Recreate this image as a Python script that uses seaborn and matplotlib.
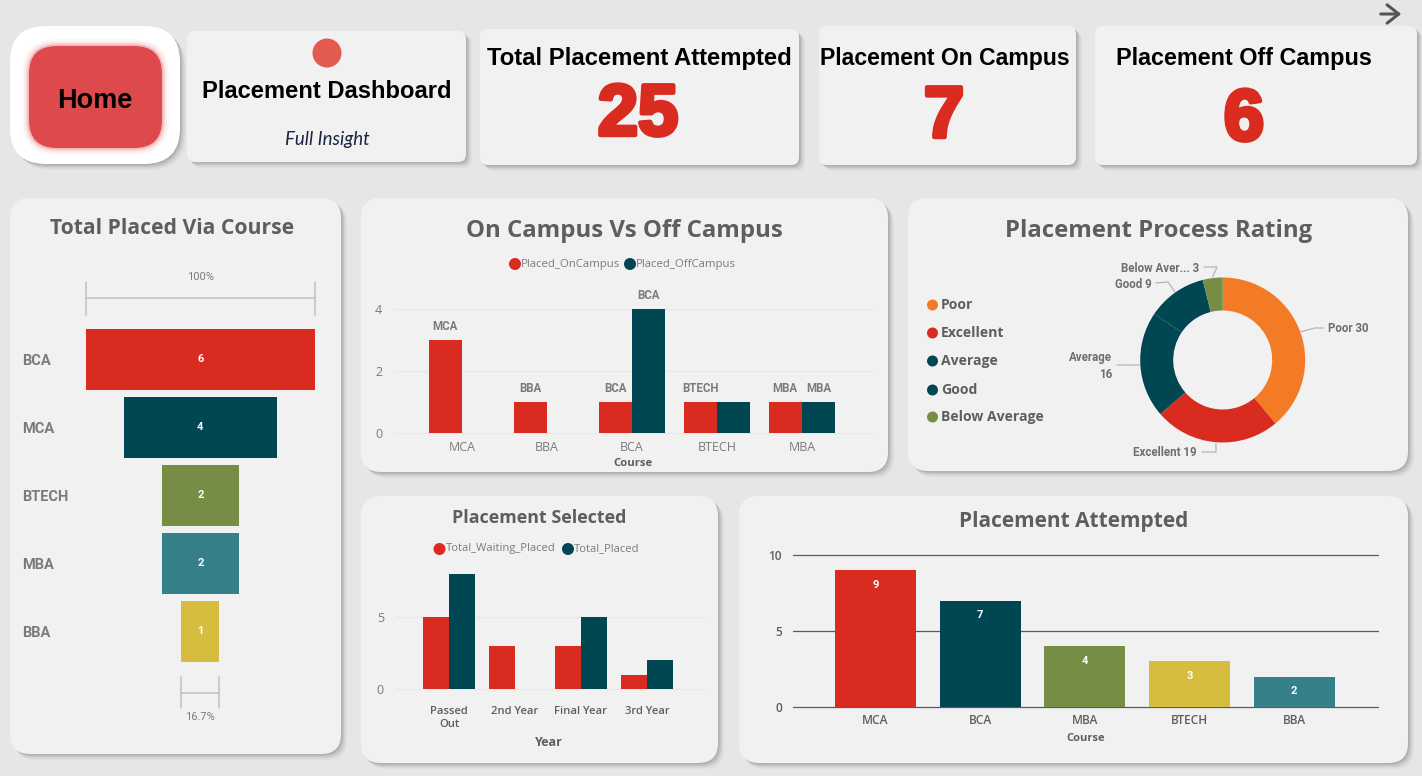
import pandas as pd
import matplotlib
matplotlib.use("Agg")
import matplotlib.pyplot as plt
import matplotlib.patheffects as pe
from matplotlib.patches import FancyBboxPatch, Circle
import numpy as np
import seaborn as sns

# ============================
# data
# ============================
funnel_courses = ["BCA", "MCA", "BTECH", "MBA", "BBA"]
funnel_values = [6, 4, 2, 2, 1]

campus_courses = ["MCA", "BBA", "BCA", "BTECH", "MBA"]
placed_on_campus = [3, 1, 1, 1, 1]
placed_off_campus = [0, 0, 4, 1, 1]
on_campus_names = ["MCA", "BBA", "BCA", "BTECH", "MBA"]
off_campus_names = ["", "", "BCA", "", "MBA"]

rating_labels = ["Poor", "Excellent", "Average", "Good", "Below Average"]
rating_values = [30, 19, 16, 9, 3]

selected_years = ["Passed\nOut", "2nd Year", "Final Year", "3rd Year"]
total_waiting = [5, 3, 3, 1]
total_placed = [8, 0, 5, 2]

attempted_courses = ["MCA", "BCA", "MBA", "BTECH", "BBA"]
attempted_values = [9, 7, 4, 3, 2]

# colours
RED = "#d92b20"
NAVY = "#004753"
OLIVE = "#768d46"
YELLOW = "#d6bc3f"
TEAL = "#36808a"
ORANGE = "#f47b26"
GREY = "#605e5c"
LABEL = "#7b7b7b"
CARD = "#f1f1f1"

W, H = 1422, 776

sns.set_theme(style="white")
plt.rcParams["font.family"] = ["Open Sans", "DejaVu Sans"]
plt.rcParams["axes.unicode_minus"] = False

fig = plt.figure(figsize=(W / 100, H / 100), dpi=100, facecolor="#e6e6e6")

# full size layer in pixel coordinates for the cards and text
bg = fig.add_axes([0, 0, 1, 1], zorder=0)
bg.set_xlim(0, W)
bg.set_ylim(H, 0)
bg.axis("off")


def px_axes(x0, y0, x1, y1):
    ax = fig.add_axes([x0 / W, 1 - y1 / H, (x1 - x0) / W, (y1 - y0) / H], zorder=2)
    ax.patch.set_alpha(0)
    return ax


def round_box(x0, y0, x1, y1, r, color, alpha=1.0, z=1):
    bg.add_patch(FancyBboxPatch(
        (x0 + r, y0 + r), x1 - x0 - 2 * r, y1 - y0 - 2 * r,
        boxstyle=f"round,pad={r},rounding_size={r}",
        fc=color, ec="none", alpha=alpha, zorder=z,
    ))


def card(x0, y0, x1, y1, r, color=CARD):
    # soft shadow to the lower right
    for d, a in [(6, 0.05), (4.5, 0.08), (3, 0.12), (1.5, 0.16)]:
        round_box(x0 + d, y0 + d, x1 + d, y1 + d, r, "#555555", a, 1)
    round_box(x0, y0, x1, y1, r, color, 1, 2)


def label(x, y, s, size, color=GREY, family="Open Sans", weight="bold", ha="center", **kw):
    return bg.text(x, y, s, fontsize=size, color=color, family=family, weight=weight,
                   ha=ha, va="center", zorder=5, **kw)


def legend_item(x, y, color, s, size=8.2, r=6, gap=4, tcolor=LABEL, weight="normal"):
    bg.add_patch(Circle((x, y), r, fc=color, ec="none", zorder=5))
    label(x + r + gap - 4, y, s, size, color=tcolor, weight=weight, ha="left")


def clean(ax, tick_color=LABEL, size=9):
    sns.despine(ax=ax, left=True, bottom=True)
    ax.tick_params(axis="both", length=0, colors=tick_color, labelsize=size)


def grid_y(ax, color, lw):
    ax.yaxis.grid(True, color=color, lw=lw)
    ax.set_axisbelow(True)
    for line in ax.get_ygridlines():
        line.set_clip_on(False)


# ============================
# top row
# ============================
card(10, 26, 180, 164, 36, "#ffffff")
for grow, a in [(7, 0.04), (5, 0.07), (3, 0.12), (1.5, 0.2)]:
    round_box(29 - grow, 46 - grow, 162 + grow, 148 + grow, 28 + grow, "#d9434a", a, 3)
round_box(29, 46, 162, 148, 28, "#de4a4c", 1, 3)
label(95, 101, "Home", 19.5, "#000000", "Liberation Sans")

card(187, 31, 466, 162, 8)
bg.add_patch(Circle((327, 53), 14.5, fc="#e35a50", ec="none", zorder=5))
label(327, 91, "Placement Dashboard", 17.1, "#000000", "Liberation Sans")
label(327, 140, "Full Insight", 13.4, "#1a2340", "Lato", "normal", style="italic")

card(480, 29, 799, 165, 8)
label(639, 58, "Total Placement Attempted", 17.2, "#000000", "Liberation Sans")
card(819, 26, 1076, 165, 8)
label(945, 58, "Placement On Campus", 16.6, "#000000", "Liberation Sans")
card(1095, 26, 1417, 165, 8)
label(1244, 58, "Placement Off Campus", 16.8, "#000000", "Liberation Sans")

thick = [pe.withStroke(linewidth=3.2, foreground=RED)]
label(638, 116, str(sum(attempted_values)), 52, RED, "Liberation Sans", path_effects=thick)
label(944, 118, str(sum(placed_on_campus)), 52, RED, "Liberation Sans", path_effects=thick)
label(1244, 121, str(sum(placed_off_campus)), 52, RED, "Liberation Sans", path_effects=thick)

bg.annotate("", xy=(1404, 14), xytext=(1378, 14), zorder=5,
            arrowprops=dict(arrowstyle="->,head_length=0.7,head_width=0.55", color="#555555", lw=2.2))

# ============================
# funnel
# ============================
card(10, 198, 341, 754, 20)
label(172, 228, "Total Placed Via Course", 15.2, GREY)

ax = px_axes(85.5, 325.5, 315, 665.5)
funnel_df = pd.DataFrame({"course": funnel_courses, "placed": funnel_values})
sns.barplot(data=funnel_df, x="placed", y="course", hue="course", order=funnel_courses,
            hue_order=funnel_courses, palette=[RED, NAVY, OLIVE, TEAL, YELLOW],
            width=0.9, dodge=False, legend=False, saturation=1, linewidth=0, ax=ax)
for bar in ax.patches:
    bar.set_x(-bar.get_width() / 2)
half = max(funnel_values) / 2
ax.set_xlim(-half, half)
ax.set_ylim(4.5, -0.5)
ax.set_xlabel("")
ax.set_ylabel("")
ax.set_xticks([])
clean(ax)
ax.tick_params(axis="y", pad=45.5)
for t in ax.get_yticklabels():
    t.set_ha("left")
    t.set_family("Roboto")
    t.set_weight("bold")
    t.set_fontsize(10.5)
for cont in ax.containers:
    ax.bar_label(cont, label_type="center", color="white", fontsize=8, fontweight="bold", family="Roboto")

# 100% and 16.7% brackets
low = min(funnel_values) / 2
bracket = dict(color="#c0c0c0", lw=1.1, clip_on=False)
ax.plot([-half, half], [-0.9, -0.9], **bracket)
ax.plot([-half, -half], [-1.14, -0.66], **bracket)
ax.plot([half, half], [-1.14, -0.66], **bracket)
ax.plot([-low, low], [4.9, 4.9], **bracket)
ax.plot([-low, -low], [4.67, 5.13], **bracket)
ax.plot([low, low], [4.67, 5.13], **bracket)
ax.text(0, -1.22, "100%", ha="center", va="center", fontsize=8, color=LABEL, family="Roboto")
ax.text(0, 5.26, f"{min(funnel_values) / max(funnel_values) * 100:.1f}%", ha="center", va="center",
        fontsize=8, color=LABEL, family="Roboto")

# ============================
# on campus vs off campus
# ============================
card(361, 198, 888, 472, 20)
label(624, 231, "On Campus Vs Off Campus", 17.3, GREY)
legend_item(515, 264, RED, "Placed_OnCampus")
legend_item(630, 264, NAVY, "Placed_OffCampus")

ax = px_axes(394, 299.7, 871.5, 433)
campus_df = pd.DataFrame({"Course": campus_courses, "Placed_OnCampus": placed_on_campus,
                          "Placed_OffCampus": placed_off_campus})
campus_long = campus_df.melt(id_vars="Course", var_name="kind", value_name="n")
sns.barplot(data=campus_long, x="Course", y="n", hue="kind", palette=[RED, NAVY],
            width=0.78, gap=0, legend=False, saturation=1, linewidth=0, ax=ax)
ax.set_xlim(-0.8, 4.82)
ax.set_ylim(0, 4.3)
ax.set_yticks([0, 2, 4])
ax.set_ylabel("")
ax.set_xlabel("Course", fontsize=8.2, fontweight="bold", color=GREY, labelpad=3)
clean(ax)
ax.tick_params(axis="y", pad=8.5)
ax.tick_params(axis="x", pad=5.5)
grid_y(ax, "#e8e8e8", 1)
for cont, names in zip(ax.containers, [on_campus_names, off_campus_names]):
    ax.bar_label(cont, labels=names, padding=5, color=LABEL, fontsize=8.3, fontweight="bold",
                 family="Roboto", clip_on=False)

# ============================
# donut
# ============================
card(908, 198, 1408, 471, 20)
label(1159, 231, "Placement Process Rating", 17.2, GREY)
rating_colors = [ORANGE, RED, NAVY, NAVY, OLIVE]
for i, (name, col) in enumerate(zip(rating_labels, rating_colors)):
    y = [305, 333, 361, 390, 417][i]
    legend_item(932.5, y, col, name, 10.1, r=5.5, gap=7, tcolor=GREY, weight="bold")

cx, cy, radius = 1222.7, 360, 82.5
ax = px_axes(cx - radius, cy - radius, cx + radius, cy + radius)
wedges, _ = ax.pie(rating_values, colors=rating_colors, startangle=90, counterclock=False, radius=1,
                   wedgeprops=dict(width=0.4, linewidth=0))
ax.set_xlim(-1, 1)
ax.set_ylim(-1, 1)

# leader elbows and label anchors per slice
leaders = [
    [(1315, 328), (1323, 328)],
    [(1216, 452), (1202, 452)],
    [(1117, 365)],
    [(1168, 282), (1156, 283)],
    [(1217, 267), (1204, 267)],
]
texts = [
    (1328, 329, "left", "Poor 30"),
    (1197, 453, "right", "Excellent 19"),
    (1112, 366, "right", "Average\n16"),
    (1152, 284, "right", "Good 9"),
    (1199, 268, "right", "Below Aver... 3"),
]
for w, pts, (tx, ty, ha, s) in zip(wedges, leaders, texts):
    mid = np.deg2rad((w.theta1 + w.theta2) / 2)
    x0 = cx + (radius + 1) * np.cos(mid)
    y0 = cy - (radius + 1) * np.sin(mid)
    xs = [x0] + [p[0] for p in pts]
    ys = [y0] + [p[1] for p in pts]
    bg.plot(xs, ys, color="#b5b5b5", lw=0.9, zorder=5)
    label(tx, ty, s, 8.3, color="#6e6e6e", family="Roboto", ha=ha, linespacing=1.4)

# ============================
# placement selected
# ============================
card(361, 496, 718, 763, 20)
label(539, 518, "Placement Selected", 12.9, GREY)
legend_item(439.5, 549, RED, "Total_Waiting_Placed", 8.1)
legend_item(568, 549, NAVY, "Total_Placed", 8.1)

ax = px_axes(395, 560, 703, 689)
selected_df = pd.DataFrame({"Year": selected_years, "Total_Waiting_Placed": total_waiting,
                            "Total_Placed": total_placed})
selected_long = selected_df.melt(id_vars="Year", var_name="kind", value_name="n")
sns.barplot(data=selected_long, x="Year", y="n", hue="kind", palette=[RED, NAVY],
            width=0.78, gap=0, legend=False, saturation=1, linewidth=0, ax=ax)
ax.set_xlim(-0.82, 3.85)
ax.set_ylim(0, 129 / 14.4)
ax.set_yticks([0, 5])
ax.set_ylabel("")
ax.set_xlabel("Year", fontsize=9, fontweight="bold", color=GREY, labelpad=4)
clean(ax, tick_color=GREY)
ax.tick_params(axis="y", pad=8, labelcolor=LABEL)
ax.tick_params(axis="x", pad=12.5)
for t in ax.get_xticklabels():
    t.set_fontweight("semibold")
    t.set_fontsize(8.1)
    t.set_linespacing(1.25)
grid_y(ax, "#e8e8e8", 1)

# ============================
# placement attempted
# ============================
card(739, 496, 1408, 763, 20)
label(1074, 522, "Placement Attempted", 15, GREY)

ax = px_axes(793, 549, 1378, 707)
attempted_df = pd.DataFrame({"Course": attempted_courses, "Attempted": attempted_values})
sns.barplot(data=attempted_df, x="Course", y="Attempted", hue="Course",
            palette=[RED, NAVY, OLIVE, YELLOW, TEAL], width=0.775, dodge=False, legend=False,
            saturation=1, linewidth=0, ax=ax)
ax.set_xlim(-0.788, 4.8)
ax.set_ylim(0, 158 / 15.2)
ax.set_yticks([0, 5, 10])
ax.set_ylabel("")
ax.set_xlabel("Course", fontsize=8, fontweight="bold", color=GREY, labelpad=4.5)
clean(ax, tick_color=GREY, size=8.6)
ax.tick_params(axis="y", pad=8)
ax.tick_params(axis="x", pad=5)
for t in ax.get_xticklabels():
    t.set_fontweight("semibold")
for t in ax.get_yticklabels():
    t.set_fontweight("semibold")
grid_y(ax, "#5a5a5a", 0.9)
for cont in ax.containers:
    ax.bar_label(cont, padding=-14, color="white", fontsize=8, fontweight="bold", family="Roboto")

fig.savefig("out.png", dpi=100, facecolor=fig.get_facecolor())
